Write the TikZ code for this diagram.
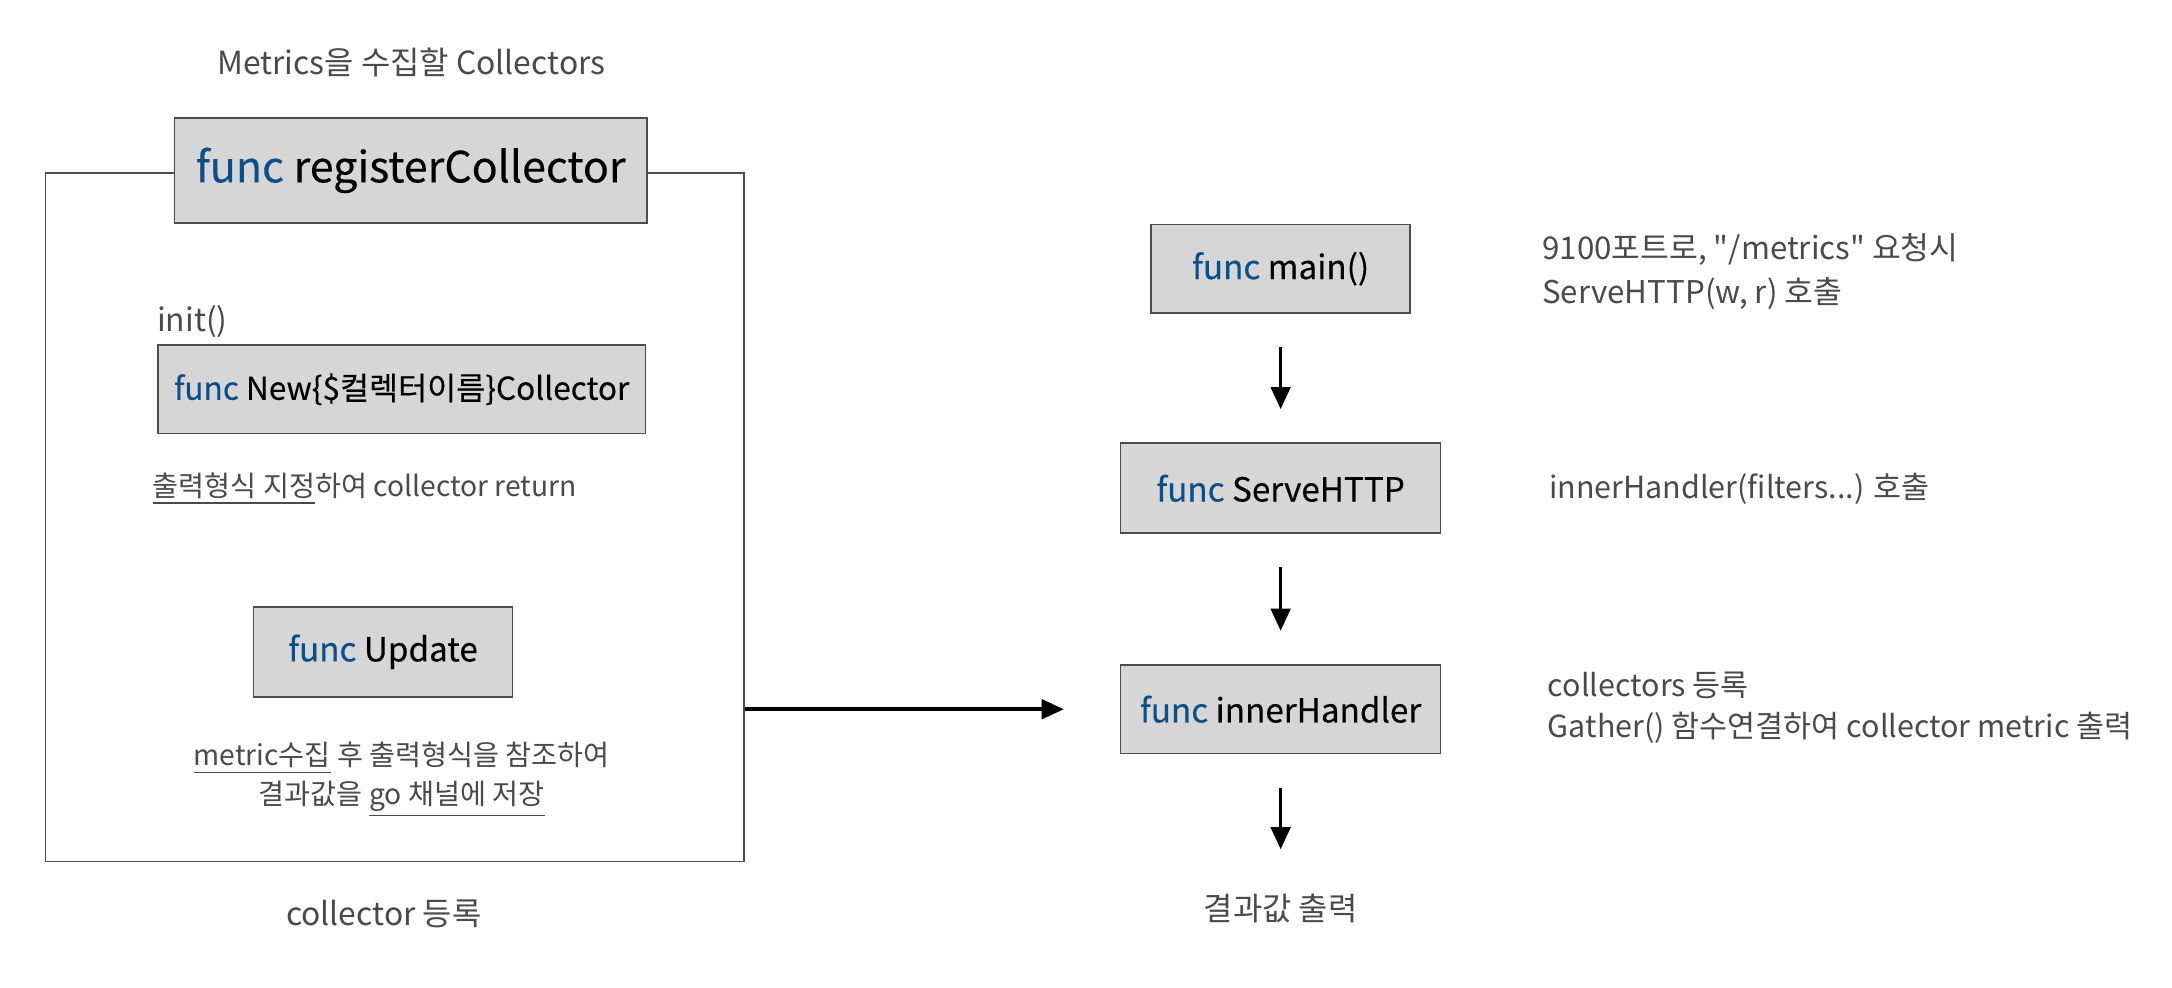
\documentclass[tikz,border=0pt]{standalone}
\usepackage{fontspec}
\setmainfont{Noto Sans CJK KR}[Ligatures=TeXOff]
\newfontfamily\boxfont{Noto Sans CJK KR}[Ligatures=TeXOff,FakeBold=0.3]
\usetikzlibrary{arrows.meta,fit}
\pgfdeclarelayer{bg}
\pgfsetlayers{bg,main}
\definecolor{boxgray}{HTML}{D6D6D6}
\definecolor{edgegray}{HTML}{4D4D4D}
\definecolor{txtgray}{HTML}{4A4A4A}
\definecolor{funcblue}{HTML}{0B4F8A}
\newcommand{\fkw}{\textcolor{funcblue}{func}}

\begin{document}
\begin{tikzpicture}[x=0.5pt,y=-0.5pt,
  func/.style={draw=edgegray,fill=boxgray,line width=0.6pt,inner sep=0,font=\boxfont\fontsize{12}{14}\selectfont},
  note/.style={text=txtgray,inner sep=0,font=\fontsize{11}{15}\selectfont},
  flow/.style={line width=1.3pt,-{Triangle[length=8pt,width=7pt]}}]
\useasboundingbox (0,0) rectangle (1568,713);
% collector side
\node[note,font=\fontsize{11.5}{15}\selectfont] (title) at (297,45) {Metrics을 수집할 Collectors};
\node[func,minimum width=170.5pt,minimum height=38pt,font=\boxfont\fontsize{15.5}{18}\selectfont] (reg) at (296.5,123) {\fkw{} registerCollector};
\node[note,anchor=west,font=\fontsize{11.5}{15}\selectfont] (init) at (113,232) {init()};
\node[func,minimum width=176pt,minimum height=32pt,font=\boxfont\fontsize{11.4}{14}\selectfont] (new) at (290,281) {\fkw{} New\{\$컬렉터이름\}Collector};
\node[note,anchor=west,font=\fontsize{10.2}{14}\selectfont] (fmt) at (110,353) {\underline{출력형식 지정}하여 collector return};
\node[func,minimum width=93.5pt,minimum height=32.5pt] (upd) at (276.5,470.5) {\fkw{} Update};
\node[note,align=center,font=\fontsize{10.2}{14}\selectfont] (store) at (290,563) {\underline{metric수집} 후 출력형식을 참조하여\\결과값을 \underline{go 채널에 저장}};
\node[note,font=\fontsize{11.5}{15}\selectfont] (reglbl) at (277,660) {collector 등록};
\coordinate (fnw) at (33,125);
\coordinate (fse) at (537,622);
\begin{pgfonlayer}{bg}
  \node[fit={(fnw) (fse)},draw=edgegray,line width=0.5pt,inner sep=0] (frame) {};
\end{pgfonlayer}
% handler side
\node[func,minimum width=93.5pt,minimum height=32pt] (main) at (924.5,194) {\fkw{} main()};
\node[func,minimum width=115.5pt,minimum height=32.5pt] (serve) at (924.5,352.5) {\fkw{} ServeHTTP};
\node[func,minimum width=115.5pt,minimum height=32pt] (inner) at (924.5,512) {\fkw{} innerHandler};
\node[note,font=\fontsize{11.5}{15}\selectfont] (res) at (924.5,656) {결과값 출력};
\node[note,anchor=west,align=left,font=\fontsize{11.3}{16}\selectfont] (req) at (1113,196) {9100포트로, "/metrics" 요청시\\ServeHTTP(w, r) 호출};
\node[note,anchor=west] (call) at (1118,353) {innerHandler(filters...) 호출};
\node[note,anchor=west,align=left] (gather) at (1117,511) {collectors 등록\\Gather() 함수연결하여 collector metric 출력};
\draw[flow,shorten <=12pt,shorten >=12pt] (main) -- (serve);
\draw[flow,shorten <=12pt,shorten >=12pt] (serve) -- (inner);
\draw[flow,shorten <=12pt,shorten >=16pt] (inner) -- (res);
\coordinate (tip) at (768,512);
\draw[flow] (frame.east |- tip) -- (tip);
\end{tikzpicture}
\end{document}
